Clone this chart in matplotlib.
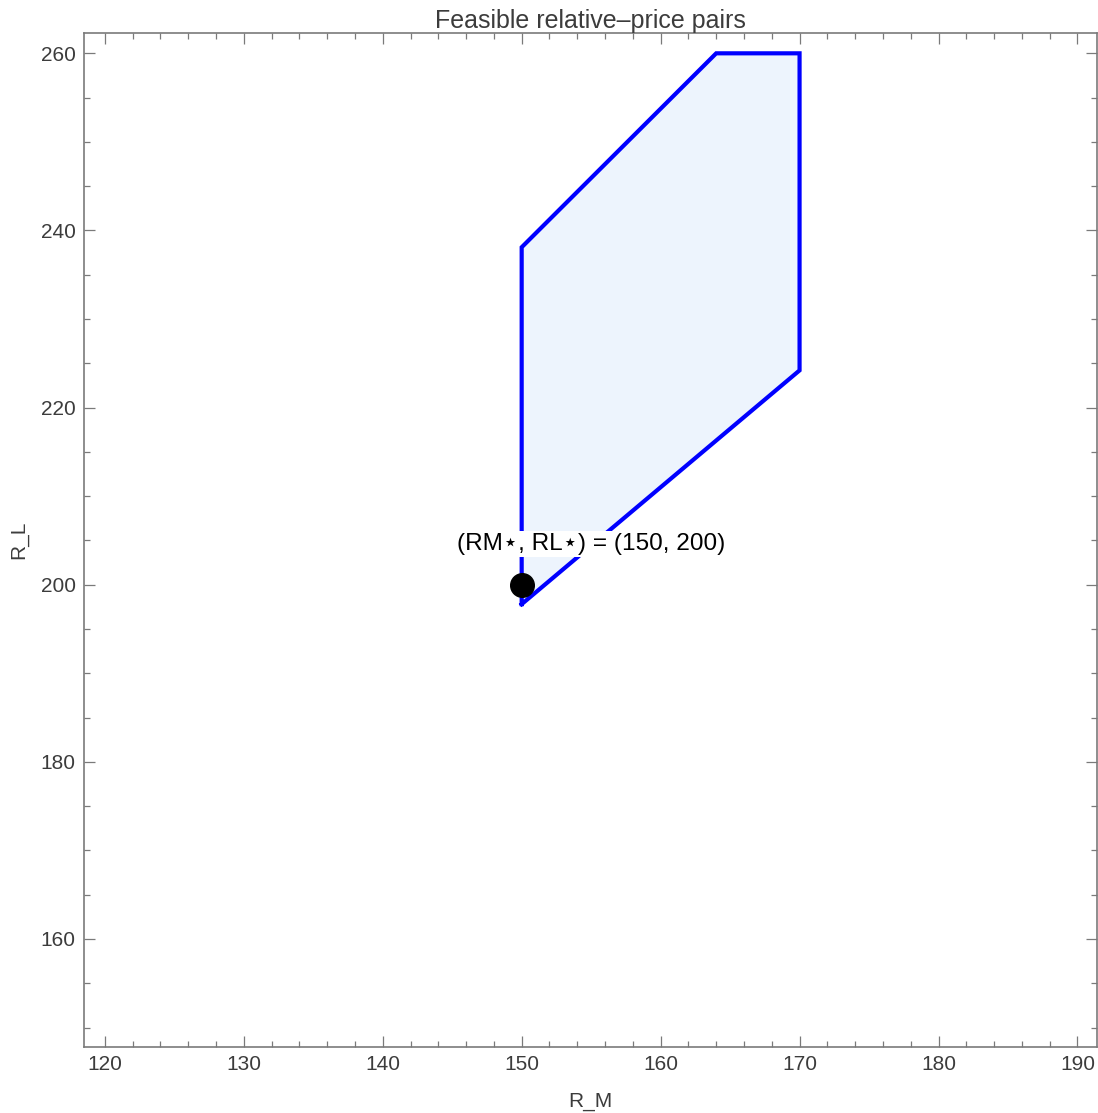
import matplotlib
matplotlib.use("Agg")
import matplotlib.pyplot as plt
from matplotlib.ticker import MultipleLocator

plt.rcParams['font.family'] = ['Liberation Sans', 'DejaVu Sans']

# feasible region vertices (R_M, R_L)
region_rm = [150, 150, 164, 170, 170]
region_rl = [197.8, 238.1, 260, 260, 224.2]

star_rm = 150
star_rl = 200
star_label = "(RM\u22c6, RL\u22c6) = (150, 200)"

fig = plt.figure(figsize=(10.98, 11.13), dpi=100)
ax = fig.add_axes([0.0765, 0.0593, 0.9225, 0.9111])

ax.fill(region_rm, region_rl, facecolor="#edf4fd", edgecolor="none", zorder=1)
ax.plot(region_rm + region_rm[:1], region_rl + region_rl[:1], color="#0000ff", lw=3.0,
        solid_joinstyle="miter", zorder=2)
ax.plot([star_rm], [star_rl], "o", color="black", markersize=17, zorder=4)
ax.text(star_rm + 5, star_rl + 4.6, star_label, fontsize=17.6, ha="center", va="center",
        color="black", zorder=5,
        bbox=dict(facecolor="white", edgecolor="none", pad=1.5),
        family=['Liberation Sans', 'DejaVu Sans'])

ax.set_xlim(118.5, 191.4)
ax.set_ylim(147.8, 262.3)

ax.xaxis.set_major_locator(MultipleLocator(10))
ax.xaxis.set_minor_locator(MultipleLocator(2))
ax.yaxis.set_major_locator(MultipleLocator(20))
ax.yaxis.set_minor_locator(MultipleLocator(5))

gray = "#7a7a7a"
for s in ax.spines.values():
    s.set_color(gray)
    s.set_linewidth(1.2)
ax.tick_params(which="both", direction="in", top=True, right=True, color=gray, width=0.9)
ax.tick_params(which="major", length=8, labelsize=15, labelcolor="#3c3c3c", pad=6)
ax.tick_params(which="minor", length=4.5)

ax.set_title("Feasible relative\u2013price pairs", fontsize=18, color="#3c3c3c", pad=3)
ax.set_xlabel("R_M", fontsize=15, color="#3c3c3c", labelpad=13)
ax.set_ylabel("R_L", fontsize=15, color="#3c3c3c", labelpad=9)

fig.savefig("out.png", dpi=100)
